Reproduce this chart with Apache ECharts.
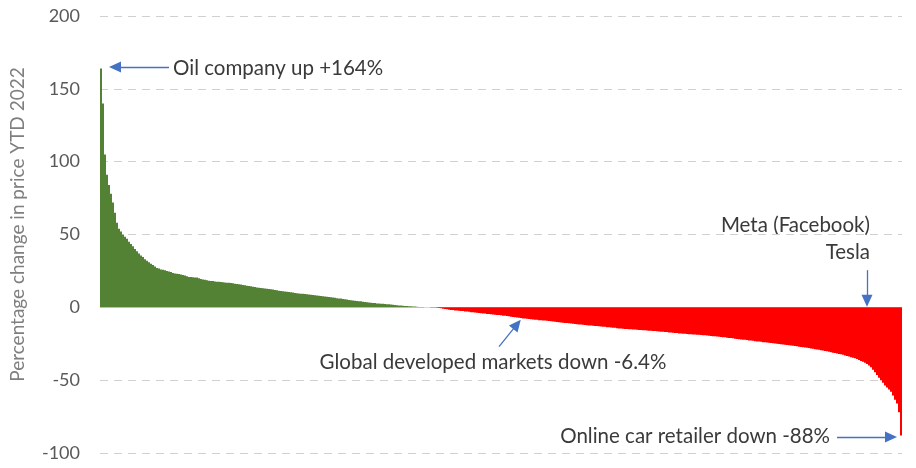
<!DOCTYPE html>
<html>
<head>
<meta charset="utf-8">
<script src="https://cdn.jsdelivr.net/npm/echarts@6/dist/echarts.min.js"></script>
<style>
html,body{margin:0;padding:0;background:#fff;}
#chart{width:916px;height:468px;}
</style>
</head>
<body>
<div id="chart"></div>
<script>
// Percentage change in price YTD 2022, stocks sorted from best to worst
const changes = [
  164, 140, 105, 91, 84, 78, 72, 65, 58, 54,
  52, 50, 48.5, 47, 45, 43.5, 42, 40, 38.5, 37,
  35.5, 34.5, 33, 32, 31, 30, 29, 28, 27, 26.6,
  26, 25.8, 25.4, 25, 24.6, 24.2, 23.6, 23.3, 23, 22.8,
  22.5, 22.2, 21.8, 21.4, 20.8, 20.8, 20.6, 20.5, 20.4, 20.0,
  19.5, 19.1, 18.9, 18.6, 18.3, 18.1, 18.0, 17.8, 17.6, 17.5,
  17.4, 17.2, 17.1, 16.9, 16.8, 16.7, 16.5, 16.2, 16.0, 15.8,
  15.6, 15.4, 15.2, 14.9, 14.7, 14.4, 14.2, 14.0, 13.7, 13.5,
  13.3, 13.1, 13.0, 12.8, 12.6, 12.4, 12.2, 11.9, 11.7, 11.4,
  11.2, 11.0, 10.9, 10.7, 10.5, 10.3, 10.1, 9.9, 9.7, 9.5,
  9.4, 9.3, 9.1, 9.0, 8.8, 8.7, 8.5, 8.3, 8.1, 7.9,
  7.8, 7.6, 7.4, 7.3, 7.1, 6.9, 6.7, 6.5, 6.3, 6.1,
  6.0, 5.8, 5.5, 5.3, 5.0, 4.8, 4.7, 4.5, 4.3, 4.2,
  4.1, 3.9, 3.7, 3.5, 3.4, 3.2, 3.0, 2.9, 2.7, 2.6,
  2.5, 2.4, 2.3, 2.2, 2.1, 2.0, 1.8, 1.6, 1.4, 1.3,
  1.2, 1.1, 1.0, 0.9, 0.8, 0.7, 0.6, 0.5, 0.4, 0.3,
  0.2, 0.2, 0.1, 0.1, 0.0, -0.1, -0.1, -0.2, -0.3, -0.5,
  -0.7, -1.0, -1.2, -1.4, -1.6, -1.8, -1.9, -2.1, -2.2, -2.4,
  -2.5, -2.6, -2.8, -2.9, -3.1, -3.3, -3.4, -3.6, -3.7, -3.9,
  -4.0, -4.2, -4.3, -4.5, -4.6, -4.8, -4.9, -5.1, -5.2, -5.3,
  -5.5, -5.7, -5.8, -6.0, -6.2, -6.4, -6.6, -6.8, -7.0, -7.2,
  -7.4, -7.6, -7.7, -7.9, -8.0, -8.2, -8.3, -8.5, -8.6, -8.8,
  -8.9, -9.0, -9.1, -9.2, -9.4, -9.6, -9.8, -9.9, -10.1, -10.3,
  -10.4, -10.5, -10.7, -10.8, -11.0, -11.1, -11.3, -11.4, -11.6, -11.7,
  -11.8, -12.0, -12.1, -12.3, -12.4, -12.5, -12.6, -12.8, -12.9, -13.0,
  -13.1, -13.3, -13.4, -13.6, -13.7, -13.8, -14.0, -14.1, -14.3, -14.5,
  -14.6, -14.7, -14.8, -14.9, -15.0, -15.1, -15.2, -15.3, -15.4, -15.5,
  -15.6, -15.7, -15.8, -15.9, -16.0, -16.1, -16.2, -16.3, -16.5, -16.6,
  -16.7, -16.8, -16.9, -17.0, -17.2, -17.3, -17.5, -17.6, -17.7, -17.9,
  -18.0, -18.1, -18.2, -18.3, -18.4, -18.5, -18.6, -18.7, -18.8, -18.9,
  -19.0, -19.1, -19.2, -19.4, -19.5, -19.6, -19.8, -19.9, -20.0, -20.2,
  -20.3, -20.5, -20.6, -20.8, -21.0, -21.1, -21.3, -21.5, -21.7, -21.9,
  -22.0, -22.2, -22.3, -22.5, -22.7, -22.8, -23.0, -23.2, -23.4, -23.5,
  -23.7, -23.9, -24.0, -24.2, -24.3, -24.5, -24.7, -24.8, -25.0, -25.1,
  -25.3, -25.5, -25.7, -25.8, -26.0, -26.2, -26.4, -26.6, -26.8, -27.0,
  -27.2, -27.4, -27.6, -27.8, -28.0, -28.3, -28.5, -28.7, -29.0, -29.2,
  -29.4, -29.7, -30.0, -30.2, -30.5, -30.8, -31.1, -31.4, -31.7, -32.0,
  -32.2, -32.6, -33.0, -33.4, -33.8, -34.2, -34.6, -35.0, -35.4, -36.2,
  -36.8, -37.3, -38.0, -38.9, -40.0, -41.2, -42.8, -44.6, -46.5, -48.4,
  -50.0, -51.8, -53.6, -55.0, -56.4, -58.0, -60.5, -63.5, -66.0, -72.0,
  -88
];
const ranks = changes.map((_, i) => i + 1);
const yTicks = { min: -100, max: 200, interval: 50 };
const axisTitle = 'Percentage change in price YTD 2022';

// annotation arrows: [fromRankIndex, fromValue, toRankIndex, toValue]
const arrowOil = [34, 165, 7, 165];
const arrowTesla = [383, 25.5, 383, 4.5];
const arrowGlobal = [199, -27, 208, -11.7];
const arrowOnline = [368, -89, 395, -89];

const labels = {
  oil: 'Oil company up +164%',
  meta: 'Meta (Facebook)',
  tesla: 'Tesla',
  global: 'Global developed markets down -6.4%',
  online: 'Online car retailer down -88%'
};

const GREEN = '#548235', RED = '#FF0000', BLUE = '#4472C4';
const FONT = 'Lato, "Open Sans", sans-serif';

function arrow(a) {
  return [
    { coord: [a[0], a[1]], symbol: 'none' },
    { coord: [a[2], a[3]], symbol: 'triangle', symbolSize: [11, 12] }
  ];
}

const gains = changes.map(v => (v >= 0 ? v : '-'));
const losses = changes.map(v => (v < 0 ? v : '-'));

const chart = echarts.init(document.getElementById('chart'), null, { renderer: 'canvas' });
const textStyleBase = { fill: '#3A3A3A', fontSize: 20.5, fontFamily: FONT };

chart.setOption({
  animation: false,
  grid: { left: 100, right: 14, top: 16, bottom: 15, containLabel: false, outerBoundsMode: 'none' },
  xAxis: {
    type: 'category',
    data: ranks,
    axisLine: { onZero: true, lineStyle: { color: '#D9D9D9', width: 1 } },
    axisTick: { show: false },
    axisLabel: { show: false },
    splitLine: { show: false }
  },
  yAxis: {
    type: 'value',
    min: yTicks.min, max: yTicks.max, interval: yTicks.interval,
    name: axisTitle,
    nameLocation: 'middle',
    nameGap: 73,
    nameRotate: 90,
    nameTextStyle: { color: '#7F7F7F', fontSize: 19, fontFamily: FONT, padding: [0, 0, 0, 20] },
    axisLine: { show: false },
    axisTick: { show: false },
    axisLabel: { color: '#595959', fontSize: 18, fontFamily: FONT, margin: 20 },
    splitLine: { lineStyle: { color: '#D0D0D0', type: [8, 6], width: 1 } }
  },
  series: [{
    type: 'bar',
    name: 'gains',
    data: gains,
    large: true,
    largeThreshold: 10,
    barCategoryGap: '0%',
    barGap: '-100%',
    itemStyle: { color: GREEN, opacity: 1 },
    silent: true,
    markLine: {
      silent: true,
      animation: false,
      label: { show: false },
      lineStyle: { color: BLUE, width: 1.3, type: 'solid' },
      emphasis: { disabled: true },
      data: [arrow(arrowOil), arrow(arrowTesla), arrow(arrowGlobal), arrow(arrowOnline)]
    }
  }, {
    type: 'bar',
    name: 'losses',
    data: losses,
    large: true,
    largeThreshold: 10,
    barCategoryGap: '0%',
    barGap: '-100%',
    itemStyle: { color: RED, opacity: 1 },
    silent: true
  }],
  graphic: [
    { type: 'text', x: 173, y: 68, style: Object.assign({ text: labels.oil, textAlign: 'left', textVerticalAlign: 'middle' }, textStyleBase) },
    { type: 'text', x: 870, y: 225, style: Object.assign({ text: labels.meta, textAlign: 'right', textVerticalAlign: 'middle' }, textStyleBase) },
    { type: 'text', x: 870, y: 252, style: Object.assign({ text: labels.tesla, textAlign: 'right', textVerticalAlign: 'middle' }, textStyleBase) },
    { type: 'text', x: 493, y: 362, style: Object.assign({ text: labels.global, textAlign: 'center', textVerticalAlign: 'middle' }, textStyleBase) },
    { type: 'text', x: 830, y: 436, style: Object.assign({ text: labels.online, textAlign: 'right', textVerticalAlign: 'middle' }, textStyleBase) }
  ]
});
</script>
</body>
</html>
